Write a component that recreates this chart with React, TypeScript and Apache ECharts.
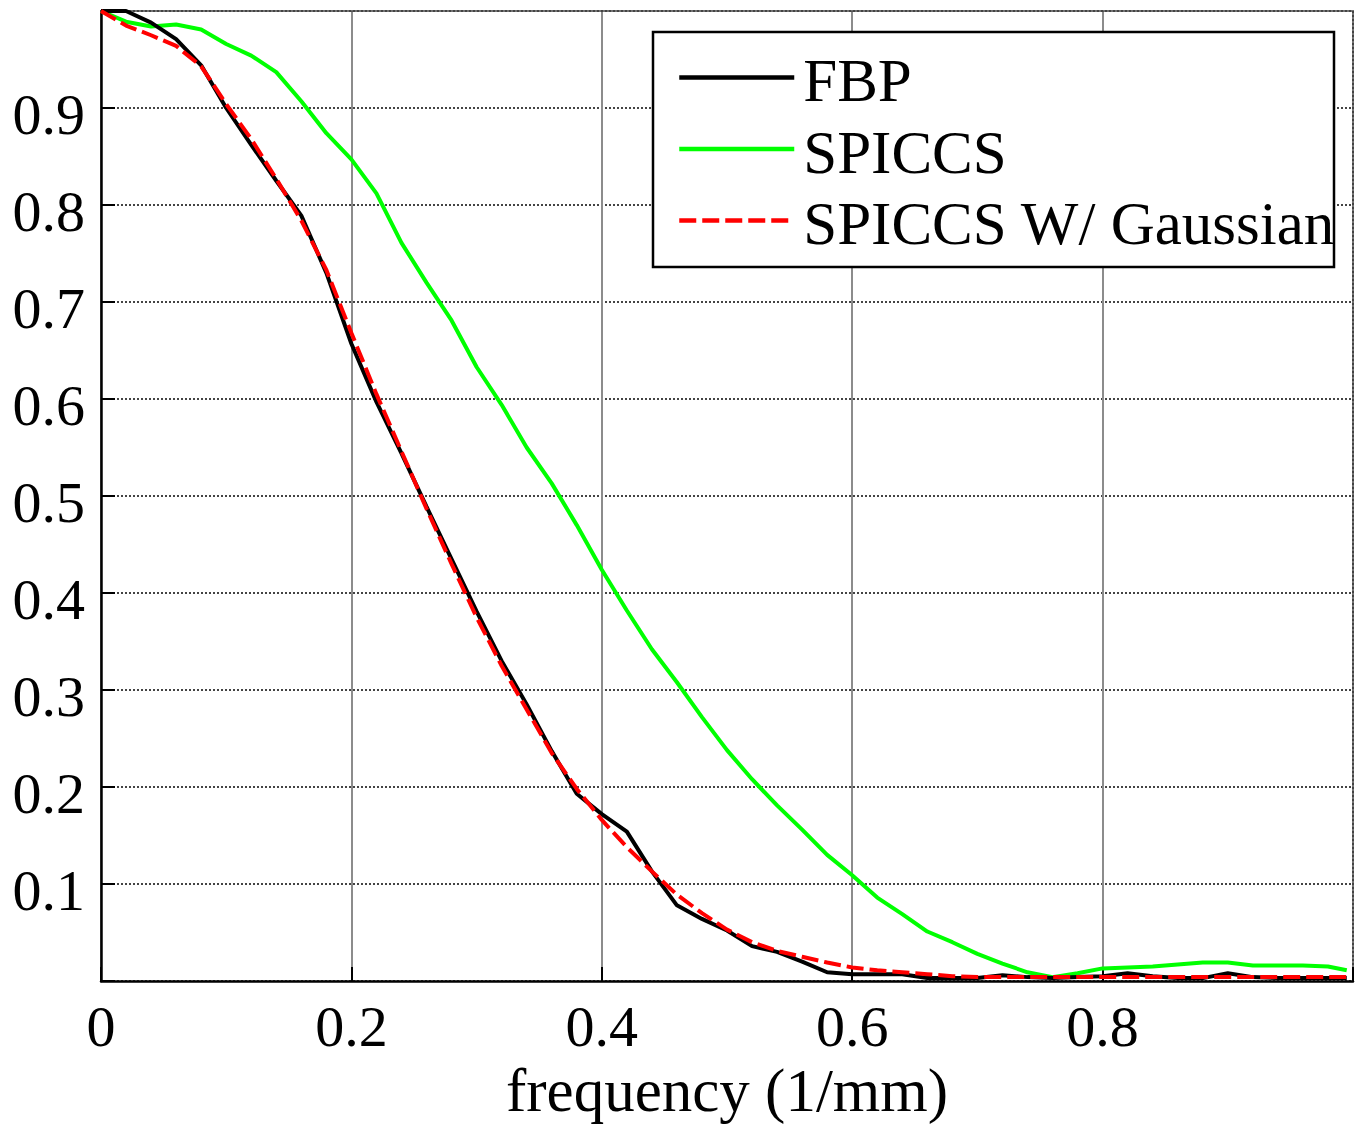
import React, { useEffect, useRef } from "react";
import * as echarts from "echarts";

const freq = [
  0, 0.02, 0.04, 0.06, 0.08, 0.1, 0.12, 0.14, 0.16, 0.18, 0.2, 0.22, 0.24, 0.26, 0.28, 0.3,
  0.32, 0.34, 0.36, 0.38, 0.4, 0.42, 0.44, 0.46, 0.48, 0.5, 0.52, 0.54, 0.56, 0.58, 0.6,
  0.62, 0.64, 0.66, 0.68, 0.7, 0.72, 0.74, 0.76, 0.78, 0.8, 0.82, 0.84, 0.86, 0.88, 0.9,
  0.92, 0.94, 0.96, 0.98, 0.995,
];

const fbp = [
  1.0, 1.0, 0.988, 0.971, 0.944, 0.9, 0.862, 0.825, 0.789, 0.73, 0.657, 0.597, 0.544, 0.489,
  0.435, 0.381, 0.33, 0.285, 0.237, 0.193, 0.172, 0.154, 0.113, 0.078, 0.064, 0.052, 0.036,
  0.03, 0.02, 0.009, 0.007, 0.007, 0.007, 0.003, 0.003, 0.003, 0.006, 0.004, 0.003, 0.004,
  0.005, 0.008, 0.005, 0.003, 0.003, 0.008, 0.004, 0.003, 0.003, 0.003, 0.003,
];

const spiccs = [
  1.0, 0.989, 0.984, 0.986, 0.981, 0.966, 0.954, 0.937, 0.907, 0.874, 0.847, 0.812, 0.761,
  0.72, 0.681, 0.633, 0.594, 0.55, 0.513, 0.47, 0.424, 0.382, 0.342, 0.308, 0.272, 0.238,
  0.208, 0.181, 0.156, 0.13, 0.109, 0.086, 0.069, 0.051, 0.04, 0.028, 0.018, 0.009, 0.004,
  0.008, 0.013, 0.014, 0.015, 0.017, 0.019, 0.019, 0.016, 0.016, 0.016, 0.015, 0.011,
];

const spiccsGauss = [
  1.0, 0.985, 0.975, 0.964, 0.943, 0.904, 0.868, 0.827, 0.784, 0.733, 0.668, 0.605, 0.546,
  0.487, 0.43, 0.375, 0.325, 0.28, 0.235, 0.198, 0.166, 0.138, 0.113, 0.089, 0.07, 0.053,
  0.04, 0.031, 0.025, 0.019, 0.014, 0.011, 0.009, 0.007, 0.005, 0.004, 0.004, 0.004, 0.004,
  0.004, 0.004, 0.004, 0.004, 0.004, 0.004, 0.004, 0.004, 0.004, 0.004, 0.004, 0.004,
];

const seriesNames = ["FBP", "SPICCS", "SPICCS W/ Gaussian"];
const xTickLabels = ["0", "0.2", "0.4", "0.6", "0.8"];
const yTickLabels = ["0.1", "0.2", "0.3", "0.4", "0.5", "0.6", "0.7", "0.8", "0.9"];

const FONT = "'Liberation Serif', 'Times New Roman', serif";

export default function App() {
  const ref = useRef<HTMLDivElement>(null);
  useEffect(() => {
    if (!ref.current) return;
    const chart = echarts.init(ref.current, null, { renderer: "svg" });
    const pair = (ys: number[]) => freq.map((x, i) => [x, ys[i]]);
    const fmtX = (v: number) => {
      const s = String(Math.round(v * 10) / 10);
      return xTickLabels.includes(s) ? s : "";
    };
    const fmtY = (v: number) => {
      const s = String(Math.round(v * 10) / 10);
      return yTickLabels.includes(s) ? s : "";
    };
    const dotted = { color: "#444", width: 2, type: [2, 2] as any };
    chart.setOption({
      animation: false,
      backgroundColor: "#fff",
      grid: { left: 101, right: 7, top: 11, bottom: 148, containLabel: false },
      xAxis: [
        {
          type: "value",
          min: 0,
          max: 1,
          interval: 0.2,
          axisLine: { show: true, onZero: false, lineStyle: { color: "#000", width: 2.5 } },
          axisTick: { show: true, inside: true, length: 14, lineStyle: { color: "#000", width: 2 } },
          splitLine: { show: true, showMaxLine: false, lineStyle: { color: "#8c8c8c", width: 2, type: "solid" } },
          axisLabel: {
            formatter: fmtX,
            fontSize: 58,
            fontFamily: FONT,
            color: "#000",
            margin: 16,
          },
          name: "frequency (1/mm)",
          nameLocation: "middle",
          nameGap: 78,
          nameTextStyle: { fontSize: 61, fontFamily: FONT, color: "#000" },
        },
        {
          type: "value",
          position: "top",
          min: 0,
          max: 1,
          axisLine: { show: true, onZero: false, lineStyle: dotted },
          axisTick: { show: false },
          axisLabel: { show: false },
          splitLine: { show: false },
        },
      ],
      yAxis: [
        {
          type: "value",
          min: 0,
          max: 1,
          interval: 0.1,
          axisLine: { show: true, onZero: false, lineStyle: { color: "#000", width: 2.5 } },
          axisTick: { show: true, inside: true, length: 14, lineStyle: { color: "#000", width: 2 } },
          splitLine: { show: true, lineStyle: dotted },
          axisLabel: {
            formatter: fmtY,
            fontSize: 58,
            fontFamily: FONT,
            color: "#000",
            margin: 16,
            verticalAlign: "top",
            lineHeight: 12,
          },
        },
        {
          type: "value",
          position: "right",
          min: 0,
          max: 1,
          axisLine: { show: true, onZero: false, lineStyle: dotted },
          axisTick: { show: false },
          axisLabel: { show: false },
          splitLine: { show: false },
        },
      ],
      legend: {
        data: seriesNames,
        orient: "vertical",
        left: 677,
        top: 44,
        padding: 0,
        itemWidth: 115,
        itemHeight: 14,
        itemGap: 4.5,
        itemStyle: { opacity: 0 },
        lineStyle: { width: 4.5 },
        formatter: "{t|{name}}",
        textStyle: {
          color: "#000",
          rich: {
            t: {
              fontSize: 61,
              fontFamily: FONT,
              color: "#000",
              lineHeight: 62,
              padding: [6, 0, 0, 4],
            },
          },
        },
      },
      graphic: [
        {
          type: "rect",
          z: 3,
          shape: { x: 653, y: 32, width: 681, height: 235 },
          style: { fill: "#fff", stroke: "#000", lineWidth: 2.5 },
        },
      ],
      series: [
        {
          name: seriesNames[0],
          type: "line",
          data: pair(fbp),
          symbol: "none",
          lineStyle: { color: "#000", width: 4 },
          itemStyle: { color: "#000" },
          z: 3,
        },
        {
          name: seriesNames[1],
          type: "line",
          data: pair(spiccs),
          symbol: "none",
          lineStyle: { color: "#00ff00", width: 4 },
          itemStyle: { color: "#00ff00" },
          z: 2,
        },
        {
          name: seriesNames[2],
          type: "line",
          data: pair(spiccsGauss),
          symbol: "none",
          lineStyle: { color: "#ff0000", width: 4, type: [17, 6] },
          itemStyle: { color: "#ff0000" },
          z: 4,
        },
      ],
    });
    return () => chart.dispose();
  }, []);
  return (
    <div
      ref={ref}
      style={{ position: "absolute", left: 0, top: 0, width: 1360, height: 1129 }}
    />
  );
}
